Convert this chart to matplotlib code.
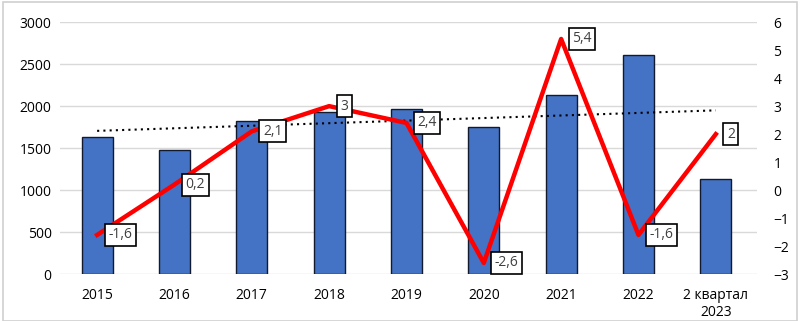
import numpy as np
import matplotlib
matplotlib.use("Agg")
import matplotlib.pyplot as plt
from matplotlib.patches import Rectangle

plt.rcParams['font.family'] = ['Open Sans', 'DejaVu Sans']

categories = ["2015", "2016", "2017", "2018", "2019", "2020", "2021", "2022", "2 квартал\n2023"]
bar_values = [1630, 1480, 1820, 1930, 1970, 1750, 2130, 2610, 1130]
line_values = [-1.6, 0.2, 2.1, 3.0, 2.4, -2.6, 5.4, -1.6, 2.0]


def fmt(v):
    s = f"{v:g}"
    return s.replace(".", ",")


fig = plt.figure(figsize=(8, 3.21), dpi=100)
fig.patches.append(Rectangle((0.004, 0.0), 0.992, 0.995, transform=fig.transFigure,
                             fill=False, edgecolor="#d0d0d0", linewidth=1.2))
ax = fig.add_axes([0.075, 0.146, 0.871, 0.785])
x = np.arange(len(categories))

ax.bar(x, bar_values, width=0.4, color="#4472C4", edgecolor="#111a2e", linewidth=1.0, zorder=2)
k, b = np.polyfit(x, bar_values, 1)
ax.plot(x, k * x + b, color="black", linestyle=(0, (1, 2)), linewidth=1.5, zorder=3)

ax.set_ylim(0, 3000)
ax.set_yticks(range(0, 3001, 500))
ax.set_xlim(-0.48, 8.53)
ax.set_xticks(x)
ax.set_xticklabels(categories)
ax.grid(axis="y", color="#d9d9d9", linewidth=1.0, zorder=0)
ax.set_axisbelow(True)
for s in ax.spines.values():
    s.set_visible(False)
ax.tick_params(length=0, labelsize=10, colors="black", pad=6)
ax.tick_params(axis="x", pad=10)

ax2 = ax.twinx()
ax2.set_ylim(-3, 6)
ax2.set_yticks(range(-3, 7))
for s in ax2.spines.values():
    s.set_visible(False)
ax2.tick_params(length=0, labelsize=10, colors="black", pad=12)
ax2.plot(x, line_values, color="#ff0000", linewidth=3.2, zorder=4)
for xi, v in zip(x, line_values):
    ax2.annotate(fmt(v), (xi, v), xytext=(8, 0), textcoords="offset points",
                 ha="left", va="center", fontsize=10, color="#404040",
                 bbox=dict(boxstyle="square,pad=0.25", fc="white", ec="black", lw=1.2),
                 zorder=5)

fig.savefig("out.png", dpi=100)
